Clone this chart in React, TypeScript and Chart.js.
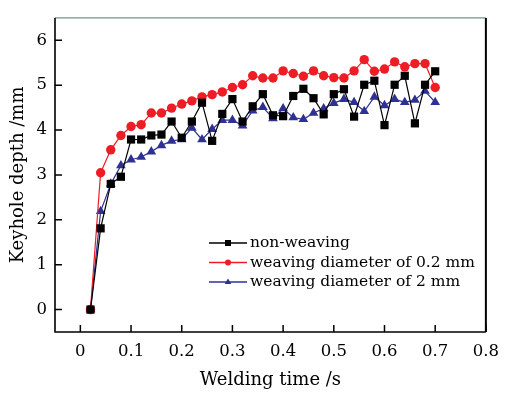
import React, { useEffect, useRef } from "react";
import { Chart, registerables } from "chart.js";

Chart.register(...registerables);

const times = [
  0.02, 0.04, 0.06, 0.08, 0.1, 0.12, 0.14, 0.16, 0.18, 0.2, 0.22, 0.24, 0.26, 0.28, 0.3, 0.32, 0.34, 0.36,
  0.38, 0.4, 0.42, 0.44, 0.46, 0.48, 0.5, 0.52, 0.54, 0.56, 0.58, 0.6, 0.62, 0.64, 0.66, 0.68, 0.7,
];
const nonWeaving = [
  0, 1.81, 2.8, 2.96, 3.79, 3.79, 3.88, 3.9, 4.19, 3.83, 4.19, 4.61, 3.76, 4.36, 4.69, 4.19, 4.53, 4.8,
  4.33, 4.31, 4.76, 4.92, 4.71, 4.35, 4.8, 4.91, 4.3, 5.01, 5.1, 4.11, 5.01, 5.21, 4.15, 5.01, 5.31,
];
const weaving02 = [
  0, 3.05, 3.56, 3.88, 4.08, 4.12, 4.38, 4.38, 4.49, 4.58, 4.65, 4.74, 4.79, 4.85, 4.95, 5.01, 5.21, 5.16,
  5.16, 5.32, 5.26, 5.2, 5.32, 5.21, 5.17, 5.16, 5.32, 5.57, 5.31, 5.36, 5.52, 5.41, 5.48, 5.48, 4.95,
];
const weaving2 = [
  0, 2.19, 2.8, 3.21, 3.34, 3.4, 3.52, 3.66, 3.76, 3.79, 4.05, 3.79, 4.02, 4.22, 4.22, 4.1, 4.43, 4.51,
  4.26, 4.48, 4.28, 4.24, 4.38, 4.48, 4.6, 4.69, 4.62, 4.42, 4.74, 4.55, 4.69, 4.62, 4.67, 4.87, 4.62,
];
const xTicks = [0, 0.1, 0.2, 0.3, 0.4, 0.5, 0.6, 0.7, 0.8];
const yTicks = [0, 1, 2, 3, 4, 5, 6];
const seriesLabels = ["non-weaving", "weaving diameter of 0.2 mm", "weaving diameter of 2 mm"];

const FONT = "'DejaVu Serif', serif";
const BLACK = "#000000";
const RED = "#ee1c24";
const BLUE = "#2e3192";

function drawMarker(ctx: CanvasRenderingContext2D, style: string, x: number, y: number, s: number, color: string) {
  ctx.fillStyle = color;
  ctx.beginPath();
  if (style === "rect") {
    ctx.rect(x - s, y - s, 2 * s, 2 * s);
  } else if (style === "circle") {
    ctx.arc(x, y, s, 0, Math.PI * 2);
  } else {
    ctx.moveTo(x, y - s * 1.2);
    ctx.lineTo(x + s * 1.1, y + s * 0.7);
    ctx.lineTo(x - s * 1.1, y + s * 0.7);
    ctx.closePath();
  }
  ctx.fill();
}

const framePlugin = {
  id: "frameAndTicks",
  afterDraw(chart: any) {
    const { ctx, chartArea } = chart;
    const { left, right, top, bottom } = chartArea;
    const xs = chart.scales.x;
    const ys = chart.scales.y;
    ctx.save();
    // inward ticks
    ctx.strokeStyle = BLACK;
    ctx.lineWidth = 1.5;
    ctx.beginPath();
    xTicks.forEach((v) => {
      const px = xs.getPixelForValue(v);
      ctx.moveTo(px, bottom);
      ctx.lineTo(px, bottom - 7);
    });
    yTicks.forEach((v) => {
      const py = ys.getPixelForValue(v);
      ctx.moveTo(left, py);
      ctx.lineTo(left + 7, py);
    });
    ctx.stroke();
    // frame
    ctx.strokeStyle = "#6f9580";
    ctx.lineWidth = 1.2;
    ctx.beginPath();
    ctx.moveTo(left, top);
    ctx.lineTo(right, top);
    ctx.stroke();
    ctx.strokeStyle = BLACK;
    ctx.lineWidth = 1.6;
    ctx.beginPath();
    ctx.moveTo(left, top);
    ctx.lineTo(left, bottom);
    ctx.lineTo(right, bottom);
    ctx.stroke();
    ctx.lineWidth = 2;
    ctx.beginPath();
    ctx.moveTo(right, top);
    ctx.lineTo(right, bottom);
    ctx.stroke();
    // legend
    const styles = ["rect", "circle", "triangle"];
    const colors = [BLACK, RED, BLUE];
    const rowY = [243, 262.5, 282];
    ctx.font = `15.5px ${FONT}`;
    ctx.textBaseline = "middle";
    ctx.textAlign = "left";
    seriesLabels.forEach((lab, i) => {
      const y = rowY[i];
      ctx.strokeStyle = colors[i];
      ctx.lineWidth = 1.3;
      ctx.beginPath();
      ctx.moveTo(209, y);
      ctx.lineTo(247, y);
      ctx.stroke();
      drawMarker(ctx, styles[i], 228, y, 3, colors[i]);
      ctx.fillStyle = "#000";
      ctx.fillText(lab, 250, y);
    });
    ctx.restore();
  },
};

export default function App() {
  const ref = useRef<HTMLCanvasElement | null>(null);
  useEffect(() => {
    if (!ref.current) return;
    const mk = (label: string, data: number[], color: string, style: string, r: number) => ({
      label,
      data: data.map((v, i) => ({ x: times[i], y: v })),
      borderColor: color,
      backgroundColor: color,
      borderWidth: 1.2,
      pointStyle: style,
      pointRadius: r,
      pointHoverRadius: r,
      pointBorderWidth: 0,
      tension: 0,
    });
    const chart = new Chart(ref.current, {
      type: "line",
      data: {
        datasets: [
          mk(seriesLabels[0], nonWeaving, BLACK, "rect", 5.8),
          mk(seriesLabels[1], weaving02, RED, "circle", 4.7),
          mk(seriesLabels[2], weaving2, BLUE, "triangle", 5.6),
        ],
      },
      options: {
        animation: false,
        responsive: true,
        maintainAspectRatio: false,
        layout: { padding: { top: 7, right: 15, left: 0, bottom: 0 } },
        plugins: { legend: { display: false }, tooltip: { enabled: false } },
        scales: {
          x: {
            type: "linear",
            min: -0.05,
            max: 0.8,
            afterBuildTicks: (s: any) => {
              s.ticks = xTicks.map((v) => ({ value: v }));
            },
            afterFit: (s: any) => {
              s.height = 62;
            },
            grid: { display: false, drawTicks: false },
            border: { display: false },
            ticks: {
              padding: 10,
              color: "#000",
              font: { family: FONT, size: 16.5 },
              maxRotation: 0,
              callback: (v: any) => String(v),
            },
            title: {
              display: true,
              text: "Welding time /s",
              color: "#000",
              font: { family: FONT, size: 18 },
              padding: { top: 0, bottom: 3.2 },
            },
          },
          y: {
            type: "linear",
            min: -0.5,
            max: 6.5,
            afterBuildTicks: (s: any) => {
              s.ticks = yTicks.map((v) => ({ value: v }));
            },
            afterFit: (s: any) => {
              s.width = 55;
            },
            grid: { display: false, drawTicks: false },
            border: { display: false },
            ticks: {
              padding: 8,
              color: "#000",
              font: { family: FONT, size: 16.5 },
              callback: (v: any) => String(v),
            },
            title: {
              display: true,
              text: "Keyhole depth /mm",
              color: "#000",
              font: { family: FONT, size: 18 },
              padding: { top: 8, bottom: 0 },
            },
          },
        },
      },
      plugins: [framePlugin],
    } as any);
    return () => chart.destroy();
  }, []);
  return (
    <div style={{ position: "fixed", left: 0, top: 0, width: 509, height: 394, background: "#fff" }}>
      <canvas ref={ref} />
    </div>
  );
}
